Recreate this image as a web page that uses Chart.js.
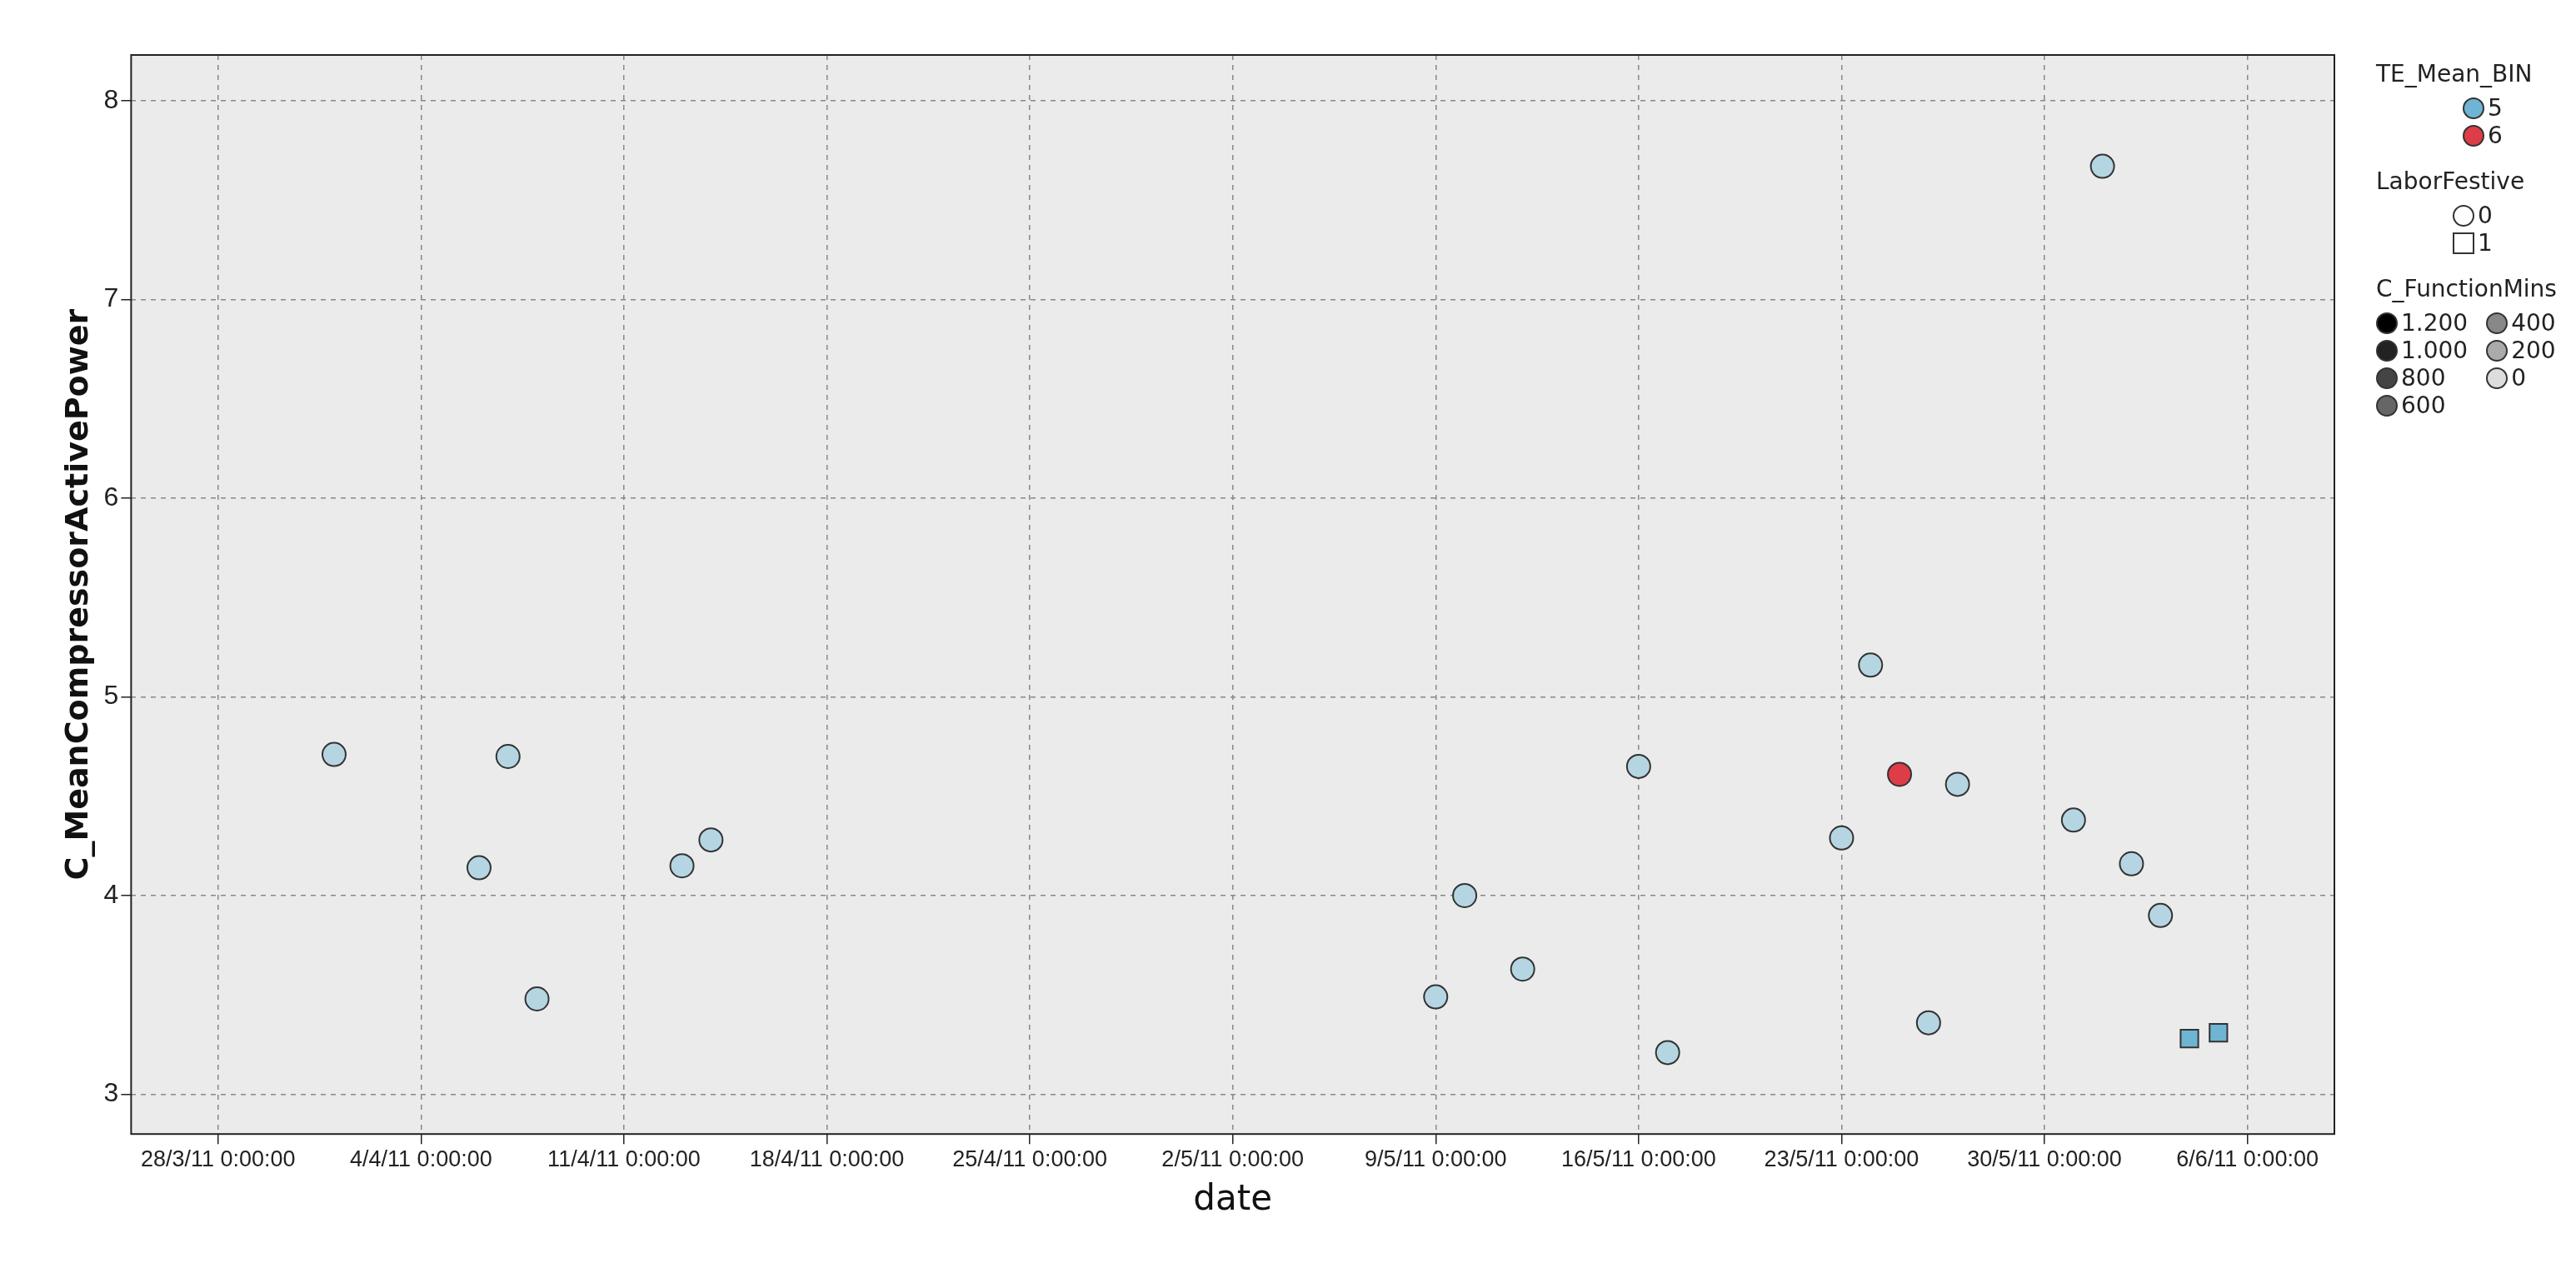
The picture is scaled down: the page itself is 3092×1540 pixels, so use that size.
<!DOCTYPE html>
<html>
<head>
<meta charset="utf-8">
<script src="https://cdn.jsdelivr.net/npm/chart.js@4"></script>
<style>
  body { margin: 0; background: #fff; font-family: "DejaVu Sans", sans-serif; }
  #wrap { position: relative; width: 3092px; height: 1540px; }
  #legend { position: absolute; left: 2852px; top: 72px; font-size: 28px; color: #222; }
  #legend .ttl { margin: 0 0 8px 0; }
  #legend .row { display: flex; align-items: center; height: 33px; }
  #legend .sym { width: 26px; height: 26px; border: 2px solid #333; box-sizing: border-box; margin-right: 4px; }
  #legend .c { border-radius: 50%; }
</style>
</head>
<body>
<div id="wrap">
  <canvas id="grafico" width="3092" height="1540"></canvas>
  <div id="legend">
    <div class="ttl">TE_Mean_BIN</div>
    <div style="margin-left:104px">
      <div class="row"><span class="sym c" style="background:#6fb4d2"></span>5</div>
      <div class="row"><span class="sym c" style="background:#dd3d46"></span>6</div>
    </div>
    <div class="ttl" style="margin-top:22px">LaborFestive</div>
    <div style="margin-left:92px">
      <div class="row"><span class="sym c" style="background:#fff"></span>0</div>
      <div class="row"><span class="sym" style="background:#fff"></span>1</div>
    </div>
    <div class="ttl" style="margin-top:22px">C_FunctionMins</div>
    <div style="display:flex">
      <div>
        <div class="row"><span class="sym c" style="background:#000"></span>1.200</div>
        <div class="row"><span class="sym c" style="background:#222"></span>1.000</div>
        <div class="row"><span class="sym c" style="background:#444"></span>800</div>
        <div class="row"><span class="sym c" style="background:#666"></span>600</div>
      </div>
      <div style="margin-left:22px">
        <div class="row"><span class="sym c" style="background:#888"></span>400</div>
        <div class="row"><span class="sym c" style="background:#aaa"></span>200</div>
        <div class="row"><span class="sym c" style="background:#ddd"></span>0</div>
      </div>
    </div>
  </div>
</div>
<script>
// dados
const datas = ['2011-04-01','2011-04-06','2011-04-07','2011-04-08','2011-04-13','2011-04-14',
  '2011-05-09','2011-05-10','2011-05-12','2011-05-16','2011-05-17','2011-05-23','2011-05-24',
  '2011-05-26','2011-05-27','2011-05-31','2011-06-01','2011-06-02','2011-06-03'];
const potencia = [4.71,4.14,4.70,3.48,4.15,4.28,3.49,4.00,3.63,4.65,3.21,4.29,5.16,3.36,4.56,4.38,7.67,4.16,3.90];

const datasVermelho = ['2011-05-25'];
const potenciaVermelho = [4.61];

const datasFestivo = ['2011-06-04','2011-06-05'];
const potenciaFestivo = [3.28,3.31];

const rotulosX = ['28/3/11 0:00:00','4/4/11 0:00:00','11/4/11 0:00:00','18/4/11 0:00:00','25/4/11 0:00:00',
  '2/5/11 0:00:00','9/5/11 0:00:00','16/5/11 0:00:00','23/5/11 0:00:00','30/5/11 0:00:00','6/6/11 0:00:00'];
const rotulosY = [3,4,5,6,7,8];

const inicio = Date.UTC(2011, 2, 28);
function dia(s) { return (Date.parse(s + 'T00:00:00Z') - inicio) / 86400000; }
function pontos(ds, vs) { return ds.map((d, i) => ({ x: dia(d), y: vs[i] })); }

const fundo = {
  id: 'fundo',
  beforeDraw(chart) {
    const { ctx, chartArea: a } = chart;
    ctx.save();
    ctx.fillStyle = '#ebebeb';
    ctx.fillRect(a.left, a.top, a.right - a.left, a.bottom - a.top);
    ctx.restore();
  },
  afterDraw(chart) {
    const { ctx, chartArea: a } = chart;
    ctx.save();
    ctx.strokeStyle = '#222';
    ctx.lineWidth = 2;
    ctx.strokeRect(a.left, a.top, a.right - a.left, a.bottom - a.top);
    ctx.restore();
  }
};

const grade = {
  display: true, color: '#888', lineWidth: 1.5, drawTicks: true, tickLength: 12, tickColor: '#222'
};

new Chart(document.getElementById('grafico'), {
  type: 'scatter',
  data: {
    datasets: [
      { data: pontos(datas, potencia), backgroundColor: '#b5d5e2', borderColor: '#333', borderWidth: 2, pointRadius: 14, pointStyle: 'circle' },
      { data: pontos(datasVermelho, potenciaVermelho), backgroundColor: '#dd3d46', borderColor: '#333', borderWidth: 2, pointRadius: 14, pointStyle: 'circle' },
      { data: pontos(datasFestivo, potenciaFestivo), backgroundColor: '#6fb4d2', borderColor: '#333', borderWidth: 2, pointRadius: 15, pointStyle: 'rect' }
    ]
  },
  options: {
    responsive: false,
    devicePixelRatio: 1,
    animation: false,
    layout: { padding: { top: 66, right: 290, bottom: 70, left: 68 } },
    plugins: { legend: { display: false }, tooltip: { enabled: false } },
    scales: {
      x: {
        type: 'linear', min: -3, max: 73,
        afterBuildTicks(ax) { ax.ticks = rotulosX.map((_, i) => ({ value: i * 7 })); },
        ticks: { callback: (v) => rotulosX[v / 7], color: '#222', font: { size: 27, family: 'Liberation Sans' }, maxRotation: 0, autoSkip: false },
        grid: grade,
        border: { display: false, dash: [6, 6] },
        title: { display: true, text: 'date', color: '#111', font: { size: 42, family: 'DejaVu Sans' } }
      },
      y: {
        min: 2.8, max: 8.23,
        afterBuildTicks(ax) { ax.ticks = rotulosY.map(v => ({ value: v })); },
        ticks: { color: '#222', font: { size: 32, family: 'Liberation Sans' } },
        grid: grade,
        border: { display: false, dash: [6, 6] },
        title: { display: true, text: 'C_MeanCompressorActivePower', color: '#111', font: { size: 38, weight: 'bold', family: 'DejaVu Sans' } }
      }
    }
  },
  plugins: [fundo]
});
</script>
</body>
</html>
